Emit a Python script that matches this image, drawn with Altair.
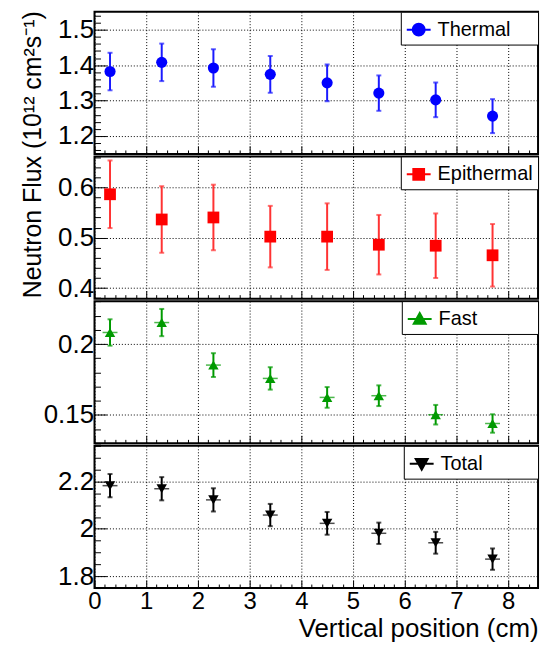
import altair as alt
import pandas as pd

# ---------------- data ----------------
x_pos = [0.3, 1.3, 2.3, 3.4, 4.5, 5.5, 6.6, 7.7]

thermal = [1.382, 1.408, 1.392, 1.374, 1.350, 1.321, 1.302, 1.256]
thermal_err = [0.053, 0.053, 0.053, 0.052, 0.052, 0.050, 0.049, 0.048]

epithermal = [0.586, 0.536, 0.540, 0.502, 0.502, 0.486, 0.484, 0.465]
epithermal_err = [0.067, 0.066, 0.065, 0.061, 0.066, 0.059, 0.064, 0.062]

fast = [0.2082, 0.2152, 0.1852, 0.1758, 0.1624, 0.1636, 0.1502, 0.1440]
fast_err = [0.0093, 0.0096, 0.0084, 0.0079, 0.0073, 0.0073, 0.0069, 0.0065]

total = [2.182, 2.169, 2.122, 2.058, 2.023, 1.981, 1.941, 1.872]
total_err = [0.049, 0.049, 0.049, 0.047, 0.048, 0.045, 0.046, 0.045]

series_names = ["Thermal", "Epithermal", "Fast", "Total"]

# axis ranges, tick steps (minor, major)
x_domain = [0, 8.58]
x_steps = (0.2, 1.0)
thermal_domain = [1.149, 1.551]
thermal_steps = (0.02, 0.1)
epithermal_domain = [0.379, 0.661]
epithermal_steps = (0.02, 0.1)
fast_domain = [0.13, 0.2303]
fast_steps = (0.01, 0.05)
total_domain = [1.75, 2.35]
total_steps = (0.05, 0.2)

x_title = "Vertical position (cm)"
y_title = "Neutron Flux (10\u00b9\u00b2 cm\u00b2s\u207b\u00b9)"

# ---------------- styling ----------------
FONT = "Liberation Sans"
W = 446
H = 143


def tick_list(domain, step):
    import math
    lo = math.ceil(domain[0] / step - 1e-9)
    hi = math.floor(domain[1] / step + 1e-9)
    return [round(i * step, 4) for i in range(lo, hi + 1)]


def major_test(major_step):
    k = round(1 / major_step, 6)
    return f"abs(datum.value*{k} - round(datum.value*{k})) < 0.001"


SYMBOLS = {
    "circle": "M-1,0H1M-0.5,0A0.5,0.5 0 1,0 0.5,0A0.5,0.5 0 1,0 -0.5,0Z",
    "square": "M-1,0H1M-0.45,-0.45H0.45V0.45H-0.45Z",
    "triangle-up": "M-1,0H1M0,-0.5L0.5,0.4L-0.5,0.4Z",
    "triangle-down": "M-1,0H1M0,0.5L0.5,-0.4L-0.5,-0.4Z",
}
# invisible filler so that all legend boxes get the same width
PADCH = "\u00a0"
ENDCH = "\u200b"


def panel(name, vals, errs, color, bar_color, shape, msize, ydomain, ysteps,
          pad_n, bottom=False, ytitle=None, side_ticks=False):
    df = pd.DataFrame({
        "x": x_pos,
        "y": vals,
        "lo": [v - e for v, e in zip(vals, errs)],
        "hi": [v + e for v, e in zip(vals, errs)],
        "series": name,
    })
    xt = major_test(x_steps[1])
    yt = major_test(ysteps[1])

    x_axis_kw = dict(
        values=tick_list(x_domain, x_steps[0]), domain=False, grid=True,
        gridColor="black", gridDash=[1, 2], gridWidth=1,
        gridOpacity={"condition": {"test": xt, "value": 1}, "value": 0},
        tickColor="black", tickWidth=1,
        tickSize={"condition": {"test": xt, "value": -8}, "value": -4},
        labels=bottom, labelOverlap=False, labelFlush=False,
        format="~g", labelExpr=f"({xt}) ? datum.label : ''",
        labelFont=FONT, labelColor="black", labelPadding=10,
        labelFontSize={"condition": {"test": xt, "value": 24}, "value": 0},
    )
    if bottom:
        x_axis_kw.update(title=x_title, titleFont=FONT, titleFontSize=26,
                         titleFontWeight="normal", titleColor="black",
                         titleAnchor="end", titleAlign="right",
                         titleBaseline="alphabetic", titleY=49)
    else:
        x_axis_kw.update(title=None)

    y_axis_kw = dict(
        values=tick_list(ydomain, ysteps[0]), domain=False, grid=True,
        gridColor="black", gridDash=[1, 2], gridWidth=1,
        gridOpacity={"condition": {"test": yt, "value": 1}, "value": 0},
        tickColor="black", tickWidth=1,
        tickSize={"condition": {"test": yt, "value": -12}, "value": -6},
        labelOverlap=False, labelFlush=False,
        format=".3~f", labelExpr=f"({yt}) ? datum.label : ''",
        labelFont=FONT, labelColor="black", labelPadding=13,
        labelFontSize={"condition": {"test": yt, "value": 26}, "value": 0},
    )
    if ytitle:
        y_axis_kw.update(title=ytitle, titleFont=FONT, titleFontSize=25,
                         titleFontWeight="normal", titleColor="black",
                         titleAnchor="end", titleAlign="right", titleAngle=270,
                         titleBaseline="alphabetic", titleX=-54, titleY=-1)
    else:
        y_axis_kw.update(title=None)

    xscale = alt.Scale(domain=x_domain, nice=False, zero=False)
    yscale = alt.Scale(domain=ydomain, nice=False, zero=False)
    xaxis = alt.Axis(**x_axis_kw)
    yaxis = alt.Axis(**y_axis_kw)

    def X(f):
        return alt.X(f"{f}:Q", scale=xscale, axis=xaxis)

    def Y(f):
        return alt.Y(f"{f}:Q", scale=yscale, axis=yaxis)

    base = alt.Chart(df)
    pts = base.mark_point(filled=True, shape=shape, size=msize, opacity=1).encode(
        x=X("x"), y=Y("y"),
        color=alt.Color("series:N",
                        scale=alt.Scale(domain=[name], range=[color]),
                        legend=alt.Legend(
                            title=None, orient="top-right", offset=0, padding=5,
                            strokeColor="black", fillColor="white",
                            labelFont=FONT, labelFontSize=20, labelColor="black",
                            labelOffset=6, labelLimit=0,
                            labelExpr="datum.label + '" + PADCH * pad_n + ENDCH + "'",
                            symbolType=SYMBOLS[shape], symbolSize=576,
                            symbolStrokeWidth=2, symbolStrokeColor=color,
                            symbolFillColor=color, symbolOpacity=1)),
    )
    bars = base.mark_rule(strokeWidth=2, color=bar_color).encode(
        x=X("x"), y=Y("lo"), y2="hi:Q")
    cap_lo = base.mark_tick(orient="horizontal", size=5, thickness=2,
                            color=bar_color).encode(x=X("x"), y=Y("lo"))
    cap_hi = base.mark_tick(orient="horizontal", size=5, thickness=2,
                            color=bar_color).encode(x=X("x"), y=Y("hi"))
    layers = [bars, cap_lo, cap_hi]
    if side_ticks:
        layers.append(base.mark_tick(orient="horizontal", size=15, thickness=1.5,
                                     color=bar_color).encode(x=X("x"), y=Y("y")))
    layers.append(pts)
    return alt.layer(*layers).properties(width=W, height=H)


p1 = panel("Thermal", thermal, thermal_err, "#0000ff", "#1a1aff", "circle", 125,
           thermal_domain, thermal_steps, 4, ytitle=y_title)
p2 = panel("Epithermal", epithermal, epithermal_err, "#ff0000", "#ff3333", "square", 140,
           epithermal_domain, epithermal_steps, 0)
p3 = panel("Fast", fast, fast_err, "#009a00", "#009a00", "triangle-up", 110,
           fast_domain, fast_steps, 10, side_ticks=True)
p4 = panel("Total", total, total_err, "#000000", "#000000", "triangle-down", 110,
           total_domain, total_steps, 9, bottom=True, side_ticks=True)

chart = alt.vconcat(p1, p2, p3, p4, spacing=2.5, bounds="flush").resolve_scale(
    y="independent", color="independent"
).properties(
    padding={"left": 12, "top": 0, "right": 5, "bottom": 0},
    background="white",
).configure_view(
    stroke="black", strokeWidth=2
).configure_axis(
    labelFont=FONT, titleFont=FONT
)

chart.save("out.html", embed_options={"renderer": "svg", "actions": False})
